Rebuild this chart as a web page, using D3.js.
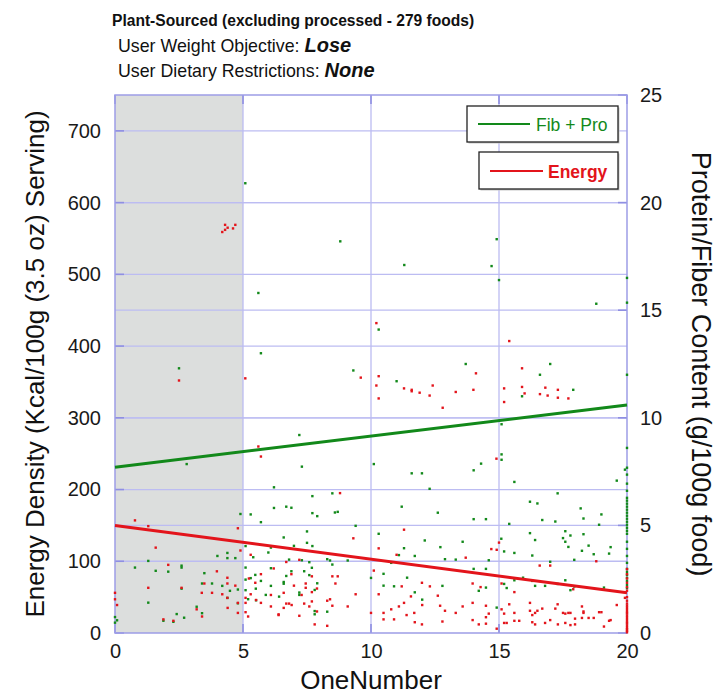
<!DOCTYPE html>
<html><head><meta charset="utf-8">
<script src="https://cdn.jsdelivr.net/npm/d3@7"></script>
<style>
html,body{margin:0;padding:0;background:#fff;}
svg{display:block;font-family:"Liberation Sans",Arial,Helvetica,sans-serif;}
</style></head><body>
<svg id="chart" width="722" height="694"></svg>
<script>
// ---- text ----
const titleText = "Plant-Sourced (excluding processed - 279 foods)";
const objectiveLabel = "User Weight Objective: ";
const objectiveValue = "Lose";
const restrictionLabel = "User Dietary Restrictions: ";
const restrictionValue = "None";
const xTitle = "OneNumber";
const energyTitle = "Energy Density (Kcal/100g (3.5 oz) Serving)";
const fibProTitle = "Protein/Fiber Content (g/100g food)";
const seriesNames = ["Fib + Pro", "Energy"];

// ---- axes ----
const xDomain = [0, 20];
const energyDomain = [0, 750];
const fibProDomain = [0, 25];
const xTicks = [0, 5, 10, 15, 20];
const energyTicks = [0, 100, 200, 300, 400, 500, 600, 700];
const fibProTicks = [0, 5, 10, 15, 20, 25];
const shadedRange = [0, 5];

// ---- fitted trends (OneNumber, value) ----
const energyTrend = [[0, 150], [20, 56]];
const fibProTrend = [[0, 7.7], [20, 10.6]];

// ---- foods: energy density, kcal per 100 g (OneNumber, kcal) ----
const energyPoints = [
  [4.30,569],[4.40,565],[4.70,569],[4.30,562],[4.61,564],[4.19,559],
  [2.50,352],[5.09,355],[5.60,260],[5.70,246],
  [9.60,356],[10.21,432],[10.30,358],[10.21,345],[10.30,327],[11.29,341],[11.59,339],[11.59,337],
  [11.90,335],[12.29,331],[12.41,345],
  [15.40,407],[14.10,362],[15.90,369],[13.31,336],[14.00,339],[12.80,314],[15.20,341],[15.90,343],
  [16.00,334],[16.81,342],[17.30,339],[16.60,333],[16.90,331],[17.30,328],[17.71,327],[15.20,322],[14.90,243],
  [0.78,157],[1.30,149],[4.80,146],[1.59,119],[4.90,115],[5.30,109],[2.08,95],[3.98,86],[6.20,90],
  [5.23,76],[5.70,82],[5.48,70],[4.39,77],[4.39,69],[4.70,66],[1.30,63],[2.60,63],[3.49,69],[3.39,56],
  [3.79,56],[4.19,54],[4.39,49],[4.80,42],[4.40,35],[4.80,28],[5.10,49],[5.10,42],[5.10,29],[5.20,23],
  [5.30,54],[5.51,46],[5.70,42],[6.39,26],[6.09,53],[0,56],[0,47],[0.08,39],[3.19,33],[3.40,23],[1.89,19],[2.28,17],
  [8.79,195],[9.31,132],[6.69,99],[7.20,102],[10.30,118],[11.29,144],[11.00,109],[6.89,82],[7.69,79],
  [6.99,66],[7.45,69],[7.45,63],[7.89,62],[8.49,79],[8.70,79],[8.61,69],[6.59,56],[7.29,53],[7.69,57],
  [9.40,54],[6.69,41],[6.80,41],[6.90,39],[6.09,37],[6.59,35],[7.39,41],[7.59,37],[7.69,44],[8.29,45],
  [8.40,47],[8.49,38],[9.09,37],[7.89,30],[6.39,25],[7.20,24],[7.80,12],[8.29,10],[10.00,28],[10.30,54],
  [10.49,28],[10.49,19],[10.90,19],[10.79,33],[11.09,37],[11.29,42],[11.39,25],[11.69,28],[11.71,15],
  [11.99,12],[11.56,51],[12.00,39],[11.99,70],[12.30,65],[12.61,52],[11.20,65],[10.11,87],
  [14.70,117],[14.91,116],[15.00,126],[13.70,105],[16.59,94],[17.00,94],[18.80,100],[15.10,69],[13.97,69],
  [14.28,64],[15.60,57],[17.90,61],[13.97,42],[14.49,38],[15.40,40],[16.21,42],[17.29,40],[18.24,37],
  [19.60,39],[19.92,49],[12.70,38],[13.58,37],[12.89,31],[13.31,28],[14.60,27],[14.49,22],[15.10,33],
  [15.20,27],[15.60,28],[16.21,31],[16.30,25],[16.41,28],[16.50,31],[16.69,34],[17.20,34],[17.50,28],
  [17.59,27],[17.71,28],[17.79,28],[18.30,30],[18.30,28],[18.24,21],[18.50,21],[18.70,21],[18.91,29],
  [19.00,29],[19.30,17],[19.36,18],[19.10,9],[17.97,20],[17.97,12],[17.79,11],[17.59,14],[17.30,12],
  [17.00,18],[16.80,14],[16.41,12],[16.30,15],[15.79,17],[15.60,17],[15.30,14],[15.20,14],[14.49,13],
  [14.21,12],[13.97,18],[12.79,16],[14.91,6]
];
// foods with OneNumber 20 (kcal)
const energyAt20 = [89,82,76,70,64,59,50,45,41,38,35,32,29,27,24,21,18,15,13,10,7,5,3,1];

// ---- foods: protein + fiber, g per 100 g (OneNumber, grams) ----
const fibProPoints = [
  [5.09,20.9],[8.80,18.2],[11.30,17.1],[14.91,18.3],[14.71,17.05],[15.00,16.4],
  [5.60,15.8],[5.70,13.0],[2.50,12.3],[9.31,12.2],[10.30,14.1],[11.00,11.7],[7.20,9.2],
  [18.80,15.3],[13.70,12.5],[17.00,12.5],[16.60,12.0],[15.90,11.0],[17.90,11.3],[15.10,9.7],
  [15.10,8.3],[15.10,8.05],
  [2.80,7.85],[6.21,6.77],[6.21,5.81],[4.90,5.53],[5.30,5.51],[5.70,5.15],[5.10,4.04],[6.09,3.97],
  [5.99,3.74],[1.30,3.35],[4.00,3.58],[4.39,3.72],[4.39,3.48],[4.70,3.48],[5.40,3.52],[0.78,3.04],
  [2.60,3.13],[2.60,3.04],[1.59,2.89],[2.08,2.85],[3.49,2.78],[5.10,3.04],[6.09,3.01],[5.10,2.48],
  [5.30,2.55],[5.48,2.70],[5.70,2.42],[4.19,2.19],[4.80,2.02],[2.60,2.06],[3.40,2.30],[3.79,2.30],
  [4.49,1.96],[4.39,1.63],[4.80,1.38],[5.10,1.99],[5.51,1.52],[6.41,1.69],[6.09,2.19],[5.89,1.77],
  [0,0.74],[0,0.48],[0.08,0.59],[1.30,1.41],[3.19,1.22],[3.40,0.92],[2.41,0.88],[2.70,0.71],[1.89,0.57],
  [2.28,0.52],[5.50,2.06],[5.20,1.57],
  [7.30,7.73],[7.71,6.36],[8.49,6.49],[6.69,5.87],[6.89,5.82],[7.71,5.57],[7.90,5.43],[8.59,5.60],
  [8.70,5.63],[9.40,4.98],[7.50,4.72],[6.59,4.44],[7.50,4.19],[7.71,4.04],[6.99,4.05],[6.80,3.41],
  [7.30,3.38],[7.59,3.29],[8.29,3.43],[8.40,3.37],[8.49,3.18],[9.09,3.37],[10.30,4.61],[11.29,3.94],
  [12.10,4.30],[11.09,3.62],[11.71,3.58],[10.79,3.26],[11.20,5.87],[12.61,5.59],[10.11,7.85],[11.59,7.42],
  [11.99,7.42],[12.29,6.70],[6.89,2.87],[6.69,2.65],[7.39,2.87],[7.59,2.69],[7.69,3.03],[6.59,2.37],
  [6.59,2.29],[7.90,2.31],[7.80,2.00],[7.20,1.88],[7.20,1.77],[7.80,1.02],[8.29,0.99],[7.80,0.87],
  [12.00,1.55],[11.71,1.89],[10.90,2.17],[10.49,2.20],[10.49,2.75],[11.41,2.57],[10.00,2.56],
  [14.01,7.56],[14.30,7.87],[15.60,7.02],[17.29,6.49],[16.21,6.10],[16.50,6.02],[18.19,5.79],[19.60,7.08],
  [19.92,7.59],[14.01,5.29],[14.49,5.29],[15.40,5.07],[16.69,5.25],[17.20,5.18],[18.30,5.32],[19.00,5.51],
  [18.91,5.03],[16.21,4.64],[17.59,4.73],[17.79,4.53],[18.30,4.59],[13.58,4.24],[12.71,3.99],[15.09,4.38],
  [16.41,4.32],[17.50,4.41],[17.59,4.24],[17.71,4.00],[18.50,4.06],[19.36,3.99],[18.24,3.82],[18.70,3.66],
  [19.30,3.69],[15.20,3.79],[15.60,3.72],[16.30,3.60],[12.89,3.43],[13.31,3.41],[14.60,3.38],[17.94,3.40],
  [17.00,3.31],[14.01,2.98],[14.49,2.98],[15.94,2.57],[15.60,2.45],[16.30,2.42],[17.59,2.45],[17.29,2.28],
  [16.80,2.19],[16.41,2.19],[17.94,2.16],[17.79,1.99],[19.10,2.11],[12.79,2.19],[14.49,2.11],[14.21,1.96],
  [15.20,2.28],[15.30,2.09],[14.91,1.18]
];
// foods with OneNumber 20 (grams)
const fibProAt20 = [16.5,15.35,12.0,8.6,7.68,7.36,6.94,6.61,6.28,6.15,6.01,5.87,5.73,5.59,5.45,5.31,5.17,
  5.03,4.89,4.75,4.61,4.24,3.91,3.58,3.26,2.98,2.84,2.70,2.56,2.42,2.23,2.09];

// ---- colours ----
const green = "#12891a";
const red = "#e3141b";
const gridColor = "#bcbcf2";
const frameColor = "#9d9de6";
const shadeColor = "#dcdedd";

// ---- layout ----
const plot = {left: 115, right: 627, top: 95, bottom: 633};
const svg = d3.select("#chart");

const x = d3.scaleLinear().domain(xDomain).range([plot.left, plot.right]);
const yE = d3.scaleLinear().domain(energyDomain).range([plot.bottom, plot.top]);
const yF = d3.scaleLinear().domain(fibProDomain).range([plot.bottom, plot.top]);

// shaded band
svg.append("rect")
  .attr("x", x(shadedRange[0])).attr("y", plot.top)
  .attr("width", x(shadedRange[1]) - x(shadedRange[0]))
  .attr("height", plot.bottom - plot.top)
  .attr("fill", shadeColor);

// grid lines from both value axes and the x axis
const grid = svg.append("g").attr("stroke", gridColor).attr("stroke-width", 1.3).attr("fill", "none");
grid.selectAll("line.ge").data(energyTicks.filter(d => d > 0)).join("line")
  .attr("x1", plot.left).attr("x2", plot.right)
  .attr("y1", d => yE(d)).attr("y2", d => yE(d));
grid.selectAll("line.gf").data(fibProTicks.filter(d => d > 0 && d < 25)).join("line")
  .attr("class", "gf")
  .attr("x1", plot.left).attr("x2", plot.right)
  .attr("y1", d => yF(d)).attr("y2", d => yF(d));
grid.selectAll("line.gx").data(xTicks.filter(d => d > 0 && d < 20)).join("line")
  .attr("class", "gx")
  .attr("y1", plot.top).attr("y2", plot.bottom)
  .attr("x1", d => x(d)).attr("x2", d => x(d));

// short inner tick marks
const tk = svg.append("g").attr("stroke", "#8f8fe2").attr("stroke-width", 1.6);
tk.selectAll("line.tl").data(energyTicks).join("line").attr("class", "tl")
  .attr("x1", plot.left).attr("x2", plot.left + 9).attr("y1", d => yE(d)).attr("y2", d => yE(d));
tk.selectAll("line.tr").data(fibProTicks).join("line").attr("class", "tr")
  .attr("x1", plot.right - 9).attr("x2", plot.right).attr("y1", d => yF(d)).attr("y2", d => yF(d));
tk.selectAll("line.tb").data(xTicks).join("line").attr("class", "tb")
  .attr("x1", d => x(d)).attr("x2", d => x(d)).attr("y1", plot.bottom - 9).attr("y2", plot.bottom);
tk.selectAll("line.tt").data(xTicks).join("line").attr("class", "tt")
  .attr("x1", d => x(d)).attr("x2", d => x(d)).attr("y1", plot.top).attr("y2", plot.top + 9);

// frame
svg.append("rect")
  .attr("x", plot.left).attr("y", plot.top)
  .attr("width", plot.right - plot.left).attr("height", plot.bottom - plot.top)
  .attr("fill", "none").attr("stroke", frameColor).attr("stroke-width", 1.5);

// scatter points
const ps = 2.4;
const fibProAll = fibProPoints.concat(fibProAt20.map(v => [20, v]));
const energyAll = energyPoints.concat(energyAt20.map(v => [20, v]));
svg.append("g").attr("fill", green).selectAll("rect").data(fibProAll).join("rect")
  .attr("x", d => x(d[0]) - ps / 2).attr("y", d => yF(d[1]) - ps / 2)
  .attr("width", ps).attr("height", ps);
svg.append("g").attr("fill", red).selectAll("rect").data(energyAll).join("rect")
  .attr("x", d => x(d[0]) - ps / 2).attr("y", d => yE(d[1]) - ps / 2)
  .attr("width", ps).attr("height", ps);

// trend lines
svg.append("path").datum(fibProTrend)
  .attr("d", d3.line().x(d => x(d[0])).y(d => yF(d[1])))
  .attr("stroke", green).attr("stroke-width", 3).attr("fill", "none");
svg.append("path").datum(energyTrend)
  .attr("d", d3.line().x(d => x(d[0])).y(d => yE(d[1])))
  .attr("stroke", red).attr("stroke-width", 3).attr("fill", "none");

// axes (labels only)
const tickFont = 20;
const axL = svg.append("g").attr("transform", `translate(${plot.left},0)`)
  .call(d3.axisLeft(yE).tickValues(energyTicks).tickSize(0).tickPadding(14).tickFormat(d3.format("d")));
const axR = svg.append("g").attr("transform", `translate(${plot.right},0)`)
  .call(d3.axisRight(yF).tickValues(fibProTicks).tickSize(0).tickPadding(13).tickFormat(d3.format("d")));
const axB = svg.append("g").attr("transform", `translate(0,${plot.bottom})`)
  .call(d3.axisBottom(x).tickValues(xTicks).tickSize(0).tickPadding(11).tickFormat(d3.format("d")));
[axL, axR, axB].forEach(a => {
  a.select(".domain").remove();
  a.selectAll("text").attr("font-size", tickFont).attr("font-family", "Liberation Sans, Arial, sans-serif").attr("fill", "#1a1a1a");
});

// axis titles
svg.append("text").text(xTitle)
  .attr("x", (plot.left + plot.right) / 2).attr("y", 689)
  .attr("text-anchor", "middle").attr("font-size", 26).attr("fill", "#111");
svg.append("text").text(energyTitle)
  .attr("transform", `translate(44,${(plot.top + plot.bottom) / 2}) rotate(-90)`)
  .attr("text-anchor", "middle").attr("font-size", 26).attr("fill", "#111");
svg.append("text").text(fibProTitle)
  .attr("transform", `translate(692,${(plot.top + plot.bottom) / 2}) rotate(90)`)
  .attr("text-anchor", "middle").attr("font-size", 27).attr("fill", "#111");

// title block
svg.append("text").text(titleText)
  .attr("x", 112).attr("y", 26).attr("font-size", 15.6).attr("font-weight", "bold").attr("fill", "#111");
const sub1 = svg.append("text").attr("x", 118).attr("y", 52).attr("font-size", 17.8).attr("fill", "#111");
sub1.append("tspan").text(objectiveLabel);
sub1.append("tspan").text(objectiveValue).attr("font-weight", "bold").attr("font-style", "italic").attr("font-size", 20);
const sub2 = svg.append("text").attr("x", 118).attr("y", 77).attr("font-size", 17.8).attr("fill", "#111");
sub2.append("tspan").text(restrictionLabel);
sub2.append("tspan").text(restrictionValue).attr("font-weight", "bold").attr("font-style", "italic").attr("font-size", 20);

// legend boxes
const legendItems = [
  {name: seriesNames[0], color: green, bold: false, box: [467, 106, 151, 36], line: [478, 530, 124], tx: 536, ty: 131},
  {name: seriesNames[1], color: red, bold: true, box: [479, 152, 139, 37], line: [490, 543, 171], tx: 548, ty: 178}
];
const lg = svg.append("g");
legendItems.forEach(it => {
  lg.append("rect").attr("x", it.box[0] + 1.5).attr("y", it.box[1] + 1.5)
    .attr("width", it.box[2]).attr("height", it.box[3]).attr("fill", "#c8c8c8");
  lg.append("rect").attr("x", it.box[0]).attr("y", it.box[1])
    .attr("width", it.box[2]).attr("height", it.box[3])
    .attr("fill", "#fff").attr("stroke", "#222").attr("stroke-width", 1.3);
  lg.append("line").attr("x1", it.line[0]).attr("x2", it.line[1]).attr("y1", it.line[2]).attr("y2", it.line[2])
    .attr("stroke", it.color).attr("stroke-width", 2.2);
  lg.append("text").text(it.name).attr("x", it.tx).attr("y", it.ty)
    .attr("font-size", 17.5).attr("font-weight", it.bold ? "bold" : "normal").attr("fill", it.color);
});
</script>
</body></html>
